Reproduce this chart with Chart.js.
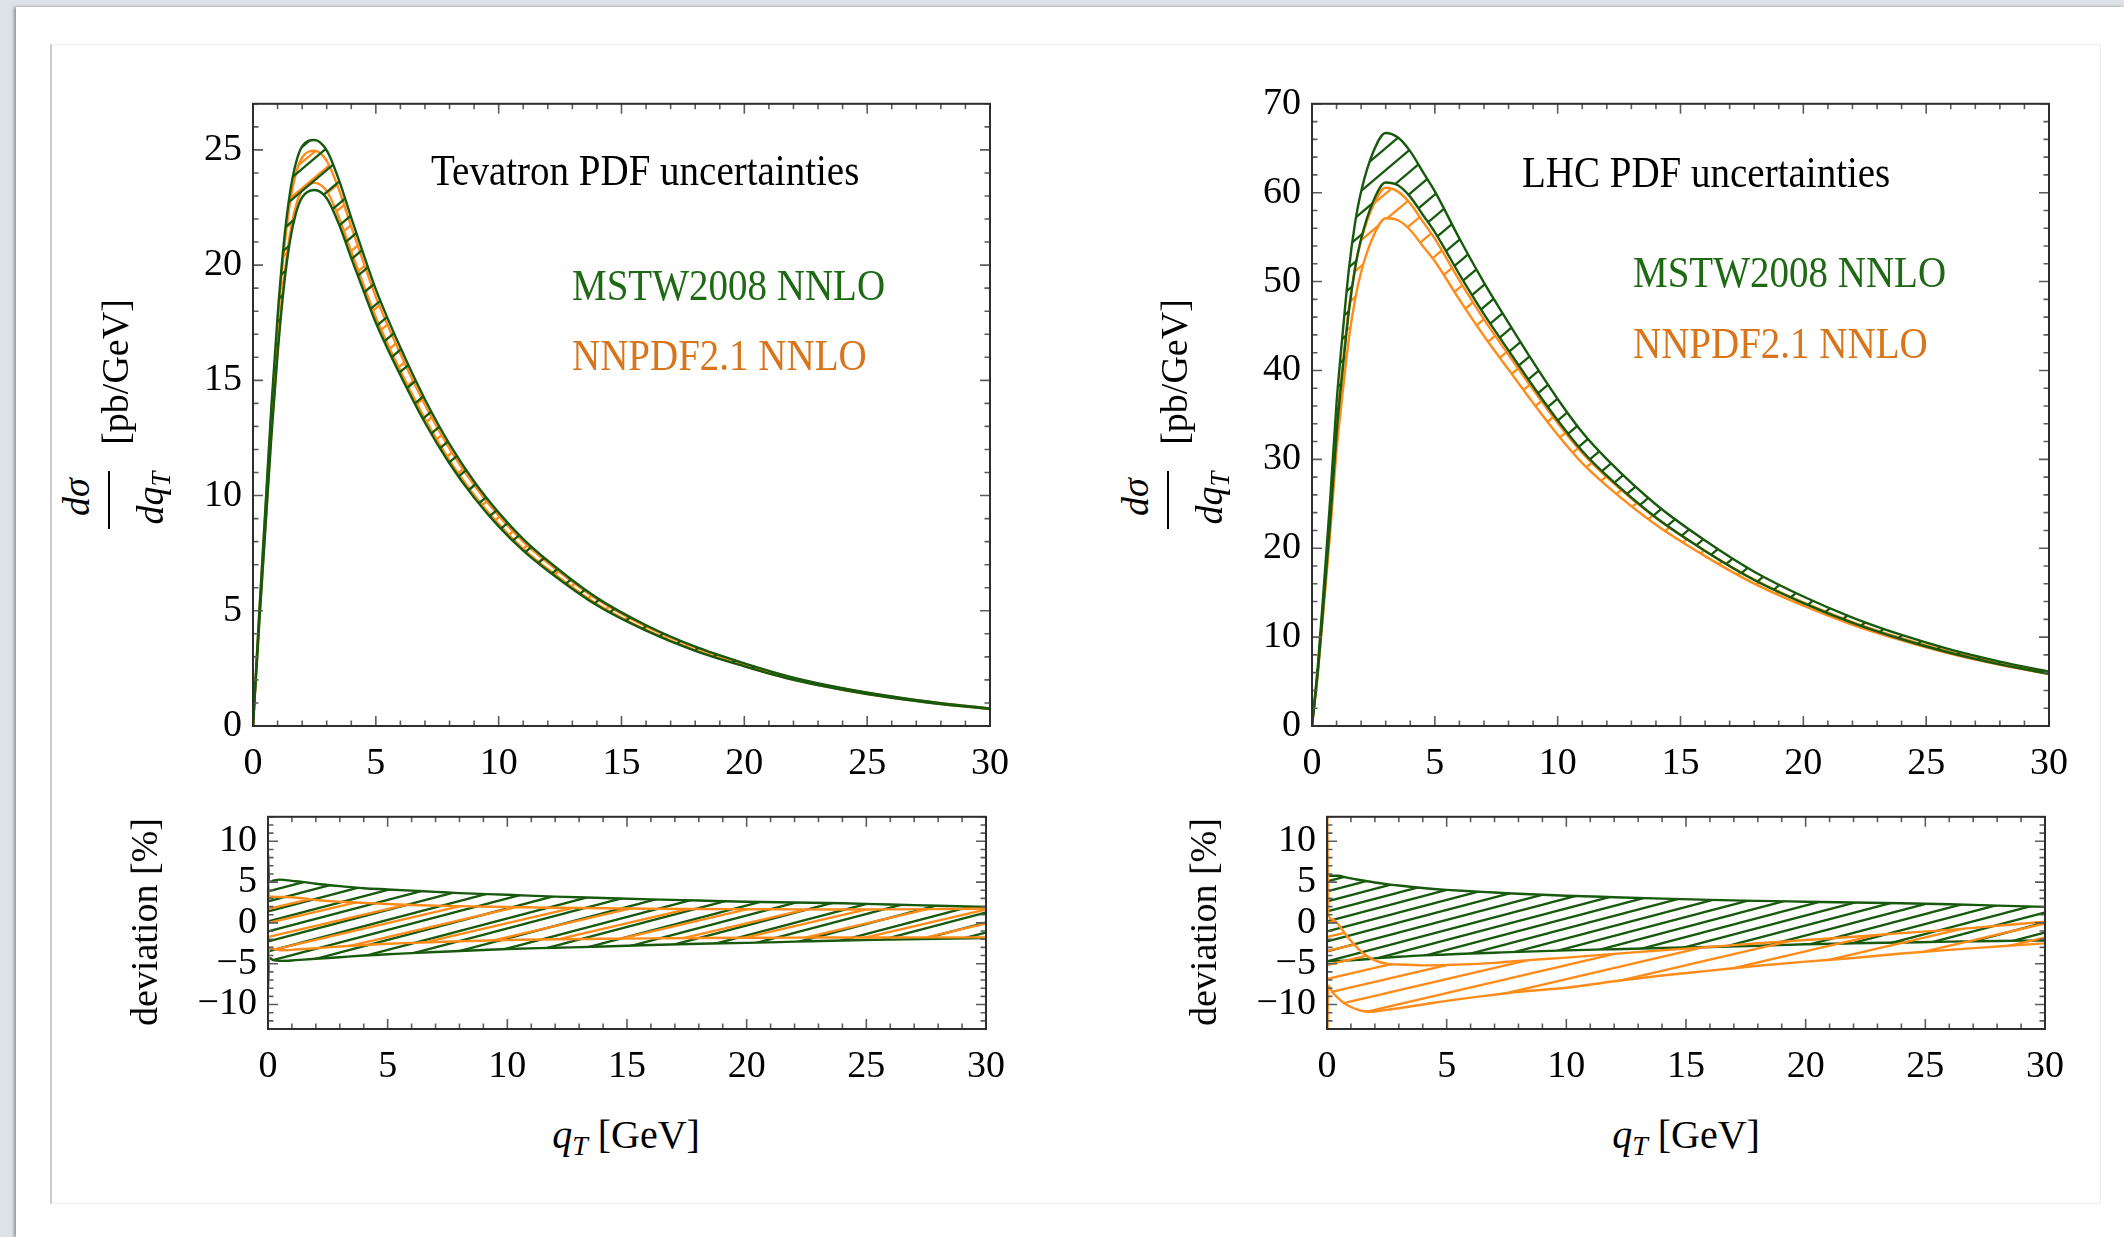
<!DOCTYPE html>
<html lang="en">
<head>
<meta charset="UTF-8">
<title>PDF uncertainties</title>
<style>
  body { margin: 0; width: 2124px; height: 1237px; overflow: hidden; position: relative; background: #dde2e8;
         font-family: 'Liberation Serif', 'Times New Roman', serif; }
  .page { position: absolute; left: 16px; top: 7px; right: 0; bottom: 0; background: #fff; box-shadow: -2px 0 3px rgba(0,0,0,0.35); }
  .card { position: absolute; left: 50px; top: 44px; width: 2048px; height: 1158px; background: #fff;
          border: 1px solid #ededed; border-left: 2px solid #cbcbcb; }
  .panel { position: absolute; }
  .txt { position: absolute; white-space: nowrap; line-height: 1; font-size: 39px; transform-origin: 0 0; transform: scaleY(1.12); }
  .rot { position: absolute; white-space: nowrap; line-height: 1; font-size: 38px; transform: translate(-50%, -50%) rotate(-90deg); }
  .xt { position: absolute; white-space: nowrap; line-height: 1; font-size: 40px; transform: translateX(-50%); }
  .bar { position: absolute; width: 2px; background: #000; }
  sub { font-size: 0.7em; vertical-align: -0.25em; line-height: 0; }
</style>
</head>
<body>
<div class="page"></div>
<div class="card"></div>

<div class="panel" style="left:133px; top:70px; width:897px; height:736px;"><canvas id="tevChart"></canvas></div>
<div class="panel" style="left:1192px; top:70px; width:897px; height:736px;"><canvas id="lhcChart"></canvas></div>
<div class="panel" style="left:148px; top:783px; width:878px; height:326px;"><canvas id="tevDevChart"></canvas></div>
<div class="panel" style="left:1207px; top:783px; width:878px; height:326px;"><canvas id="lhcDevChart"></canvas></div>

<!-- labels inside the top panels -->
<div class="txt" style="left:431px; top:148px; color:#000;">Tevatron PDF uncertainties</div>
<div class="txt" style="left:572px; top:263px; color:#1e6a14;">MSTW2008 NNLO</div>
<div class="txt" style="left:572px; top:333px; color:#d8741a;">NNPDF2.1 NNLO</div>
<div class="txt" style="left:1522px; top:150px; color:#000;">LHC PDF uncertainties</div>
<div class="txt" style="left:1633px; top:250px; color:#1e6a14;">MSTW2008 NNLO</div>
<div class="txt" style="left:1633px; top:321px; color:#d8741a;">NNPDF2.1 NNLO</div>

<!-- axis titles -->
<div class="rot" style="left:76px; top:497px;"><i>dσ</i></div>
<div class="bar" style="left:108px; top:471px; height:58px;"></div>
<div class="rot" style="left:150px; top:498px;"><i>dq</i><sub><i>T</i></sub></div>
<div class="rot" style="left:115px; top:372px;">[pb/GeV]</div>

<div class="rot" style="left:1135px; top:497px;"><i>dσ</i></div>
<div class="bar" style="left:1167px; top:471px; height:58px;"></div>
<div class="rot" style="left:1209px; top:498px;"><i>dq</i><sub><i>T</i></sub></div>
<div class="rot" style="left:1174px; top:372px;">[pb/GeV]</div>

<div class="rot" style="left:144px; top:922px;">deviation [%]</div>
<div class="rot" style="left:1203px; top:922px;">deviation [%]</div>

<div class="xt" style="left:626px; top:1115px;"><i>q</i><sub><i>T</i></sub> [GeV]</div>
<div class="xt" style="left:1686px; top:1115px;"><i>q</i><sub><i>T</i></sub> [GeV]</div>

<script src="https://cdn.jsdelivr.net/npm/chart.js@4.4.4/dist/chart.umd.min.js"></script>
<script>
    // ---- data ----
    const xTicks = [0, 5, 10, 15, 20, 25, 30];
    const tevYTicks = [0, 5, 10, 15, 20, 25];
    const lhcYTicks = [0, 10, 20, 30, 40, 50, 60, 70];
    const devYTicks = [-10, -5, 0, 5, 10];

    // qT grid of the upper panels [GeV]
    const qtTop = [0, 0.25, 0.5, 0.75, 1, 1.25, 1.5, 1.75, 2, 2.5, 3, 3.5, 4, 4.5, 5, 6, 7, 8, 9, 10, 11, 12, 14, 16, 18, 20, 22, 24, 26, 28, 30];

    // Tevatron dsigma/dqT [pb/GeV]
    const tevMstwUp = [0, 4.84, 9.37, 13.89, 17.77, 20.91, 23.10, 24.44, 25.15, 25.43, 24.98, 23.69, 22.05, 20.47, 18.95, 16.42, 14.17, 12.23, 10.61, 9.26, 8.11, 7.17, 5.56, 4.37, 3.44, 2.72, 2.10, 1.64, 1.28, 0.99, 0.76];
    const tevMstwDn = [0, 4.39, 8.49, 12.59, 16.12, 18.99, 21.01, 22.26, 22.94, 23.26, 22.90, 21.77, 20.30, 18.88, 17.50, 15.22, 13.16, 11.39, 9.91, 8.66, 7.61, 6.74, 5.24, 4.14, 3.26, 2.59, 2.00, 1.57, 1.22, 0.95, 0.74];
    const tevNnUp   = [0, 4.75, 9.18, 13.62, 17.43, 20.51, 22.66, 23.98, 24.67, 24.96, 24.52, 23.27, 21.67, 20.12, 18.62, 16.15, 13.94, 12.04, 10.46, 9.12, 8.00, 7.08, 5.50, 4.32, 3.41, 2.69, 2.08, 1.63, 1.27, 0.99, 0.76];
    const tevNnDn   = [0, 4.45, 8.60, 12.76, 16.34, 19.25, 21.30, 22.57, 23.26, 23.57, 23.21, 22.06, 20.58, 19.14, 17.74, 15.41, 13.33, 11.53, 10.03, 8.76, 7.69, 6.81, 5.29, 4.17, 3.29, 2.60, 2.01, 1.57, 1.23, 0.95, 0.74];

    // LHC dsigma/dqT [pb/GeV]
    const lhcMstwUp = [0, 7.19, 16.39, 25.87, 36.38, 44.23, 51.34, 56.53, 60.14, 64.63, 66.72, 66.20, 64.65, 62.39, 60.14, 54.84, 49.89, 45.36, 40.96, 36.79, 33.04, 30.02, 24.92, 20.87, 17.36, 14.57, 12.20, 10.24, 8.59, 7.25, 6.12];
    const lhcMstwDn = [0, 6.48, 14.78, 23.37, 32.92, 40.10, 46.61, 51.42, 54.81, 59.08, 61.15, 60.83, 59.53, 57.55, 55.56, 50.82, 46.34, 42.25, 38.23, 34.40, 30.94, 28.16, 23.45, 19.70, 16.43, 13.83, 11.60, 9.76, 8.21, 6.94, 5.87];
    const lhcNnUp   = [0, 6.83, 15.45, 24.18, 33.74, 40.74, 46.99, 51.54, 54.66, 58.62, 60.55, 60.12, 58.78, 56.80, 54.82, 50.13, 45.74, 41.76, 37.84, 34.09, 30.71, 27.99, 23.39, 19.70, 16.48, 13.90, 11.70, 9.88, 8.33, 7.08, 6.01];
    const lhcNnDn   = [0, 6.22, 14.06, 22.07, 30.95, 37.55, 43.53, 47.94, 51.08, 55.13, 57.13, 56.90, 55.80, 54.03, 52.28, 47.97, 43.87, 40.10, 36.35, 32.77, 29.57, 27.02, 22.64, 19.11, 16.01, 13.53, 11.39, 9.63, 8.12, 6.89, 5.85];

    // deviation from the MSTW central value [%]
    const qtDevTev = [0, 0.05, 0.25, 0.5, 1, 1.5, 2, 3, 4, 5, 6, 7, 8, 10, 12, 14, 16, 18, 20, 22, 24, 26, 28, 30];
    const tevDevMstwUp = [8.4, 5.0, 5.2, 5.3, 5.15, 5.0, 4.8, 4.5, 4.25, 4.1, 3.95, 3.8, 3.65, 3.45, 3.22, 3.05, 2.88, 2.74, 2.6, 2.5, 2.4, 2.25, 2.1, 1.95];
    const tevDevMstwDn = [-7.9, -4.3, -4.6, -4.65, -4.6, -4.5, -4.4, -4.2, -4.0, -3.85, -3.7, -3.57, -3.45, -3.2, -3.05, -2.9, -2.7, -2.55, -2.45, -2.3, -2.15, -2.05, -1.95, -1.85];
    const tevDevNnUp   = [5.6, 3.2, 3.2, 3.18, 3.15, 3.0, 2.8, 2.6, 2.45, 2.32, 2.2, 2.12, 2.05, 1.95, 1.85, 1.8, 1.73, 1.7, 1.68, 1.66, 1.65, 1.66, 1.7, 1.75];
    const tevDevNnDn   = [-5.9, -3.05, -3.2, -3.35, -3.3, -3.2, -3.1, -2.9, -2.7, -2.55, -2.45, -2.35, -2.25, -2.1, -2.0, -1.95, -1.9, -1.85, -1.82, -1.8, -1.78, -1.78, -1.77, -1.77];

    const qtDevLhc = [0, 0.05, 0.25, 0.5, 0.75, 1, 1.25, 1.5, 1.75, 2, 2.5, 3, 4, 5, 6, 7, 8, 10, 12, 14, 16, 18, 20, 22, 24, 26, 28, 30];
    const lhcDevMstwUp = [5.77, 5.77, 5.77, 5.77, 5.6, 5.45, 5.32, 5.2, 5.07, 4.95, 4.75, 4.58, 4.28, 4.05, 3.87, 3.72, 3.57, 3.33, 3.15, 2.98, 2.82, 2.7, 2.6, 2.5, 2.4, 2.28, 2.12, 1.96];
    const lhcDevMstwDn = [-4.7, -4.7, -4.67, -4.65, -4.62, -4.58, -4.53, -4.48, -4.42, -4.35, -4.25, -4.15, -3.98, -3.87, -3.75, -3.65, -3.55, -3.37, -3.22, -3.08, -2.95, -2.8, -2.62, -2.5, -2.4, -2.3, -2.22, -2.15];
    const lhcDevNnUp   = [20, 1.0, 0.4, -0.3, -1.3, -2.2, -3.0, -3.7, -4.2, -4.6, -5.0, -5.1, -5.2, -5.15, -5.05, -4.9, -4.65, -4.25, -3.8, -3.35, -2.95, -2.5, -2.1, -1.7, -1.25, -0.85, -0.35, 0.15];
    const lhcDevNnDn   = [-20, -7.7, -8.6, -9.3, -9.9, -10.3, -10.6, -10.8, -10.9, -10.85, -10.65, -10.45, -10.0, -9.55, -9.15, -8.8, -8.45, -7.95, -7.15, -6.45, -5.85, -5.25, -4.75, -4.3, -3.75, -3.3, -2.9, -2.5];

    const green = '#17590d';
    const orange = '#ff8c1a';
    const serif = "'Liberation Serif', 'Times New Roman', serif";

    // hatch tile: one line rising to the right, w wide and h tall
    function hatch(ctx, color, w, h) {
        const c = document.createElement('canvas');
        c.width = w;
        c.height = h;
        const g = c.getContext('2d');
        g.strokeStyle = color;
        g.lineWidth = 2.3;
        for (let k = -1; k <= 1; k++) {
            g.beginPath();
            g.moveTo(-w, 2 * h + k * h);
            g.lineTo(2 * w, -h + k * h);
            g.stroke();
        }
        return ctx.createPattern(c, 'repeat');
    }

    function pts(xs, ys) {
        return xs.map((x, i) => ({ x: x, y: ys[i] }));
    }

    // box with inward ticks on all four sides
    const framePlugin = {
        id: 'frame',
        afterDatasetsDraw(chart, args, o) {
            const ctx = chart.ctx, a = chart.chartArea;
            const xs = chart.scales.x, ys = chart.scales.y;
            const isMajor = (v, m) => Math.abs(v / m - Math.round(v / m)) < 1e-6;
            ctx.save();
            ctx.strokeStyle = '#5c5c5c';
            ctx.lineWidth = 1.6;
            ctx.beginPath();
            for (let i = Math.ceil(xs.min / o.xMinor - 1e-9); i * o.xMinor <= xs.max + 1e-9; i++) {
                const v = i * o.xMinor;
                const p = xs.getPixelForValue(v);
                const len = isMajor(v, o.xMajor) ? 10 : 5.5;
                ctx.moveTo(p, a.bottom); ctx.lineTo(p, a.bottom - len);
                ctx.moveTo(p, a.top); ctx.lineTo(p, a.top + len);
            }
            for (let i = Math.ceil(ys.min / o.yMinor - 1e-9); i * o.yMinor <= ys.max + 1e-9; i++) {
                const v = i * o.yMinor;
                const p = ys.getPixelForValue(v);
                const len = isMajor(v, o.yMajor) ? 10 : 5.5;
                ctx.moveTo(a.left, p); ctx.lineTo(a.left + len, p);
                ctx.moveTo(a.right, p); ctx.lineTo(a.right - len, p);
            }
            ctx.stroke();
            ctx.strokeStyle = '#2e2e2e';
            ctx.lineWidth = 2;
            ctx.strokeRect(a.left, a.top, a.right - a.left, a.bottom - a.top);
            ctx.restore();
        }
    };

    function makeChart(id, cfg) {
        const ctx = document.getElementById(id).getContext('2d');
        const datasets = [];
        cfg.bands.forEach(b => {
            datasets.push({
                data: pts(cfg.xs, b.up), borderColor: b.color, borderWidth: 2.4, pointRadius: 0,
                cubicInterpolationMode: 'monotone', fill: '+1', backgroundColor: hatch(ctx, b.color, b.hw, b.hh)
            });
            datasets.push({
                data: pts(cfg.xs, b.dn), borderColor: b.color, borderWidth: 2.4, pointRadius: 0,
                cubicInterpolationMode: 'monotone', fill: false
            });
        });
        return new Chart(ctx, {
            type: 'line',
            data: { datasets: datasets },
            options: {
                responsive: true,
                maintainAspectRatio: false,
                animation: false,
                devicePixelRatio: 1,
                events: [],
                layout: { padding: { top: 30, right: 40, left: 0, bottom: 0 } },
                plugins: {
                    legend: { display: false },
                    tooltip: { enabled: false },
                    frame: cfg.frame
                },
                scales: {
                    x: {
                        type: 'linear', min: 0, max: 30,
                        afterBuildTicks: s => { s.ticks = xTicks.map(v => ({ value: v })); },
                        afterFit: s => { s.height = 80; },
                        grid: { display: false, drawTicks: false },
                        border: { display: false },
                        ticks: { font: { family: serif, size: 38 }, color: '#000', padding: 15, maxRotation: 0, autoSkip: false }
                    },
                    y: {
                        type: 'linear', min: cfg.yMin, max: cfg.yMax,
                        afterBuildTicks: s => { s.ticks = cfg.yTicks.map(v => ({ value: v })); },
                        afterFit: s => { s.width = 120; },
                        grid: { display: false, drawTicks: false },
                        border: { display: false },
                        ticks: {
                            font: { family: serif, size: 38 }, color: '#000', padding: 11, autoSkip: false,
                            callback: v => v < 0 ? '\u2212' + Math.abs(v) : String(v)
                        }
                    }
                }
            },
            plugins: [framePlugin]
        });
    }

    // upper panels: green band drawn on top
    makeChart('tevChart', {
        xs: qtTop, yMin: 0, yMax: 27, yTicks: tevYTicks,
        frame: { xMinor: 1, xMajor: 5, yMinor: 1, yMajor: 5 },
        bands: [
            { up: tevMstwUp, dn: tevMstwDn, color: green, hw: 26, hh: 22 },
            { up: tevNnUp, dn: tevNnDn, color: orange, hw: 31, hh: 26 }
        ]
    });

    makeChart('lhcChart', {
        xs: qtTop, yMin: 0, yMax: 70, yTicks: lhcYTicks,
        frame: { xMinor: 1, xMajor: 5, yMinor: 2, yMajor: 10 },
        bands: [
            { up: lhcMstwUp, dn: lhcMstwDn, color: green, hw: 26, hh: 22 },
            { up: lhcNnUp, dn: lhcNnDn, color: orange, hw: 31, hh: 26 }
        ]
    });

    // deviation panels: orange band drawn on top
    makeChart('tevDevChart', {
        xs: qtDevTev, yMin: -13, yMax: 13, yTicks: devYTicks,
        frame: { xMinor: 1, xMajor: 5, yMinor: 1, yMajor: 5 },
        bands: [
            { up: tevDevNnUp, dn: tevDevNnDn, color: orange, hw: 60, hh: 14 },
            { up: tevDevMstwUp, dn: tevDevMstwDn, color: green, hw: 38, hh: 10 }
        ]
    });

    makeChart('lhcDevChart', {
        xs: qtDevLhc, yMin: -13, yMax: 13, yTicks: devYTicks,
        frame: { xMinor: 1, xMajor: 5, yMinor: 1, yMajor: 5 },
        bands: [
            { up: lhcDevNnUp, dn: lhcDevNnDn, color: orange, hw: 60, hh: 14 },
            { up: lhcDevMstwUp, dn: lhcDevMstwDn, color: green, hw: 38, hh: 10 }
        ]
    });
</script>
</body>
</html>
